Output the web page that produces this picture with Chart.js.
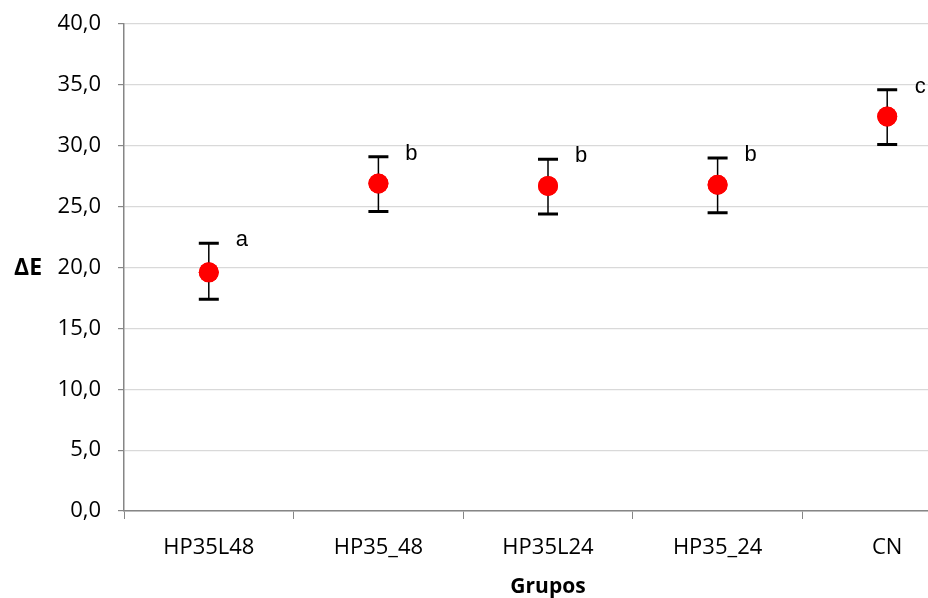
<!DOCTYPE html>
<html lang="pt">
<head>
    <meta charset="UTF-8">
    <title>ΔE por grupo</title>
    <script src="https://cdn.jsdelivr.net/npm/chart.js"></script>
    <style>
        html, body { margin: 0; padding: 0; background: #fff; overflow: hidden; }
    </style>
</head>
<body>
    <canvas id="deltaChart" width="982" height="598"></canvas>

    <script>
        // data
        const groups = ['HP35L48', 'HP35_48', 'HP35L24', 'HP35_24', 'CN'];
        const meanValues = [19.6, 26.9, 26.7, 26.8, 32.4];
        const upperValues = [22.0, 29.1, 28.9, 29.0, 34.6];
        const lowerValues = [17.4, 24.6, 24.4, 24.5, 30.1];
        const letters = ['a', 'b', 'b', 'b', 'c'];
        const yTicks = [0, 5, 10, 15, 20, 25, 30, 35, 40];

        // error bars + significance letters, placed with the chart scales
        const errorBarPlugin = {
            id: 'errorBars',
            afterDatasetsDraw(chart) {
                const ctx = chart.ctx;
                const xs = chart.scales.x;
                const ys = chart.scales.y;
                ctx.save();
                ctx.strokeStyle = '#000';
                groups.forEach((g, i) => {
                    const x = xs.getPixelForValue(i);
                    const top = ys.getPixelForValue(upperValues[i]);
                    const bot = ys.getPixelForValue(lowerValues[i]);
                    ctx.lineWidth = 1.5;
                    ctx.beginPath();
                    ctx.moveTo(x, top);
                    ctx.lineTo(x, bot);
                    ctx.stroke();
                    ctx.lineWidth = 3;
                    ctx.beginPath();
                    ctx.moveTo(x - 10, top);
                    ctx.lineTo(x + 10, top);
                    ctx.moveTo(x - 10, bot);
                    ctx.lineTo(x + 10, bot);
                    ctx.stroke();

                    ctx.fillStyle = '#000';
                    ctx.font = '22px "Liberation Sans", Arial, sans-serif';
                    ctx.textAlign = 'center';
                    ctx.textBaseline = 'middle';
                    ctx.fillText(letters[i], x + 33, top - 3);
                });
                // re-draw points on top of the error bars
                const meta = chart.getDatasetMeta(0);
                meta.data.forEach(pt => pt.draw(ctx, chart.chartArea));

                // horizontal y title
                ctx.fillStyle = '#000';
                ctx.font = 'bold 23px "Open Sans", sans-serif';
                ctx.textAlign = 'center';
                ctx.textBaseline = 'middle';
                ctx.fillText('ΔE', 28, 268);
                ctx.restore();
            }
        };

        const ctx = document.getElementById('deltaChart').getContext('2d');
        const deltaChart = new Chart(ctx, {
            type: 'line',
            data: {
                labels: groups,
                datasets: [{
                    label: 'ΔE',
                    data: meanValues,
                    showLine: false,
                    pointRadius: 10,
                    pointHoverRadius: 10,
                    pointBackgroundColor: '#ff0000',
                    pointBorderColor: '#ff0000',
                    pointBorderWidth: 0,
                }],
            },
            options: {
                responsive: false,
                animation: false,
                events: [],
                layout: { padding: { top: 0, right: 3, left: 0, bottom: 0 } },
                plugins: {
                    legend: { display: false },
                    tooltip: { enabled: false },
                },
                scales: {
                    x: {
                        type: 'category',
                        offset: true,
                        afterFit(scale) { scale.height = 87; },
                        grid: {
                            offset: true,
                            drawOnChartArea: false,
                            tickLength: 8,
                            tickColor: '#868686',
                        },
                        border: { color: '#868686', width: 1.5 },
                        ticks: {
                            color: '#000',
                            padding: 16,
                            font: { family: '"Open Sans", sans-serif', size: 22 },
                        },
                        title: {
                            display: true,
                            text: 'Grupos',
                            color: '#000',
                            font: { family: '"Open Sans", sans-serif', size: 21, weight: 'bold' },
                            padding: { top: 0, bottom: -2 },
                        },
                    },
                    y: {
                        min: 0,
                        max: 40,
                        afterFit(scale) {
                            scale.width = 124;
                            scale.paddingTop = 24;
                        },
                        afterBuildTicks(scale) { scale.ticks = yTicks.map(v => ({ value: v })); },
                        grid: {
                            color: '#d9d9d9',
                            tickColor: '#868686',
                            tickLength: 6,
                            lineWidth: 1.2,
                        },
                        border: { color: '#868686', width: 1.5 },
                        ticks: {
                            color: '#000',
                            padding: 17,
                            font: { family: '"Open Sans", sans-serif', size: 22 },
                            callback: v => v.toFixed(1).replace('.', ','),
                        },
                    },
                },
            },
            plugins: [errorBarPlugin],
        });
    </script>
</body>
</html>
